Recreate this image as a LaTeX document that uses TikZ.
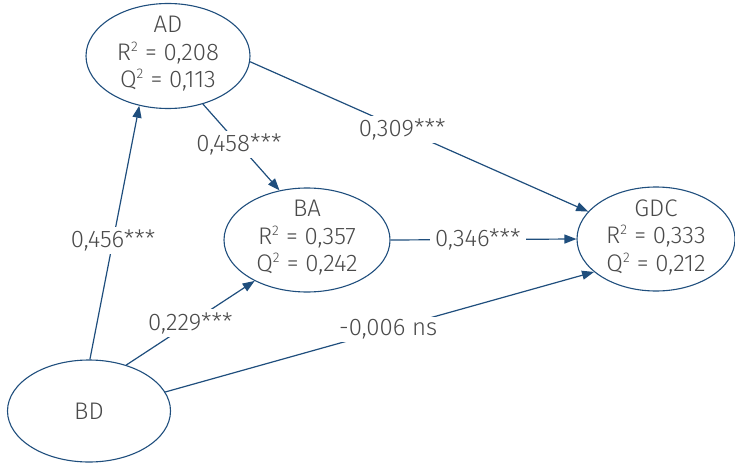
\documentclass[tikz,border=0pt]{standalone}
\usepackage{fontspec}
\setmainfont{Fira Sans}[UprightFont=* Light]
\usetikzlibrary{arrows.meta,shapes.geometric}
\definecolor{edge}{HTML}{1F4E7D}
\definecolor{txt}{HTML}{4A4A4A}
\tikzset{
  lv/.style={draw=edge, line width=1.1pt, ellipse, inner sep=0pt},
  conn/.style={draw=edge, line width=1.2pt, -{Triangle[length=12pt,width=9pt]}},
  lab/.style={fill=white, text=txt, font=\fontsize{24}{27}\selectfont, inner xsep=5pt, inner ysep=3pt},
  ntext/.style={text=txt, font=\fontsize{24}{27.5}\selectfont, align=center}
}
\newcommand{\sqr}{\textsuperscript{\fontsize{14}{14}\selectfont 2}}
\begin{document}
\begin{tikzpicture}[x=1pt,y=-1pt]
\useasboundingbox (0,0) rectangle (735,465);
\node[lv, minimum width=164pt, minimum height=105pt] (AD) at (168,56) {};
\node[ntext] at (168,54) {AD\\R\sqr{} = 0,208\\Q\sqr{} = 0,113};
\node[lv, minimum width=166pt, minimum height=104pt] (BA) at (307,240) {};
\node[ntext] at (307,238) {BA\\R\sqr{} = 0,357\\Q\sqr{} = 0,242};
\node[lv, minimum width=158pt, minimum height=104pt] (GDC) at (656,239) {};
\node[ntext] at (656,237) {GDC\\R\sqr{} = 0,333\\Q\sqr{} = 0,212};
\node[lv, minimum width=163pt, minimum height=102pt] (BD) at (89,411) {};
\node[ntext] at (89,411) {BD};
\draw[conn] (BD.89) to node[lab, pos=0.47] {0,456***} (AD.240);
\draw[conn] (AD.306) to node[lab, pos=0.47] {0,458***} (BA.119);
\draw[conn] (AD.356) to node[lab, pos=0.45] {0,309***} (GDC.158);
\draw[conn] (BA.0) to node[lab, pos=0.47] {0,346***} (GDC.180);
\draw[conn] (BD.51) to node[lab, pos=0.5] {0,229***} (BA.218);
\draw[conn] (BD.14) to node[lab, pos=0.52] {-0,006 ns} (GDC.208);
\end{tikzpicture}
\end{document}
